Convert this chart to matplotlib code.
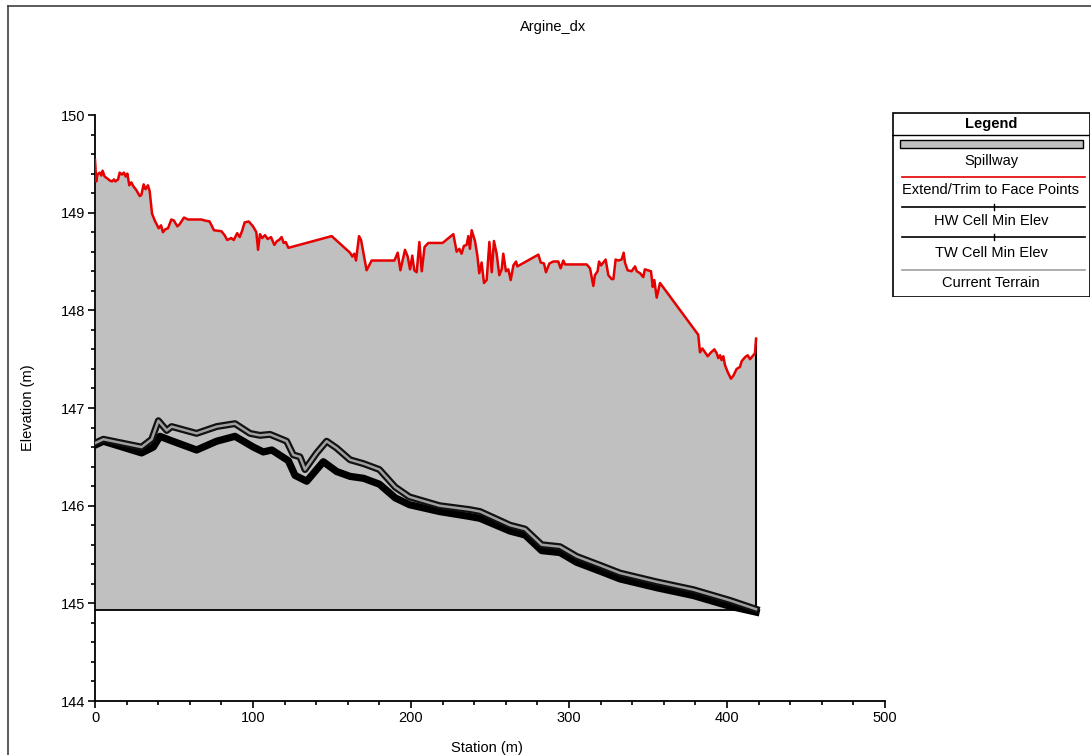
import matplotlib
matplotlib.use('Agg')
import matplotlib.pyplot as plt
from matplotlib.lines import Line2D
from matplotlib.patches import Rectangle
from matplotlib.ticker import MultipleLocator

plt.rcParams['font.family'] = ['Liberation Sans', 'DejaVu Sans']

# Spillway / Extend-Trim to Face Points profile (station m, elevation m)
spill_x = [0, 0.8, 1.5, 3, 4, 4.8, 6.1, 7.8, 9.3, 10.8, 12, 12.9, 14.6, 15.6, 17, 18.3, 19.4,
           20.5, 21.7, 23, 24.3, 26.2, 28.3, 29.3, 30.8, 32, 33.5, 34.6, 36.1, 37.8, 40.3, 41.8,
           43, 44.5, 46.2, 48.3, 49.9, 52.1, 53.5, 56.3, 58.9, 67.3, 69.4, 72.5, 75.3, 80, 82,
           83.7, 86.2, 87.8, 90, 91.6, 93, 94.7, 97.3, 100, 102.1, 103.2, 104.4, 105.8, 107.6,
           109.3, 111.4, 113.5, 115.2, 116.5, 118.1, 119.4, 120.7, 122.4, 149.8, 161.4, 162.9,
           164.1, 165.2, 167.1, 168.4, 171.9, 175.1, 189.5, 191.6, 193.3, 196.2, 197.9, 199.4,
           200.8, 202.1, 203.6, 205.3, 206.8, 208.6, 211, 220, 226.8, 228.9, 230.6, 232, 233.5,
           235.2, 236.3, 237.3, 238.4, 240.5, 242, 243.2, 244.7, 246.2, 247.9, 249.6, 251.1,
           252.5, 254.2, 255.9, 257.4, 258.4, 260.1, 261.6, 263.1, 264.8, 266.5, 267.3, 280.6,
           282.1, 284.2, 285.4, 287.6, 290.1, 293.2, 294.7, 296.4, 297.5, 311.2, 313.3, 315.4,
           316.4, 318.1, 319, 320.3, 323.2, 324.9, 327, 328.1, 329.5, 331.2, 333.3, 334.6, 335.4,
           337.1, 339.6, 341.8, 342.9, 345, 347, 348, 351.9, 353, 354, 355.5, 357.6, 381.8,
           382.9, 384.4, 385.7, 387.8, 389.9, 392, 393.5, 394.5, 395.6, 396.6, 397.7, 398.7,
           400.4, 402.5, 404, 406.1, 408.2, 409.3, 411.4, 413.1, 414.6, 416.7, 417.7, 418.4]
spill_y = [149.54, 149.32, 149.39, 149.41, 149.38, 149.43, 149.37, 149.35, 149.33, 149.32, 149.34,
           149.32, 149.34, 149.41, 149.39, 149.41, 149.37, 149.40, 149.28, 149.31, 149.27, 149.23,
           149.17, 149.18, 149.29, 149.24, 149.28, 149.22, 148.99, 148.92, 148.84, 148.87, 148.80,
           148.83, 148.84, 148.93, 148.92, 148.86, 148.88, 148.95, 148.93, 148.93, 148.92, 148.91,
           148.82, 148.81, 148.77, 148.72, 148.74, 148.72, 148.79, 148.75, 148.81, 148.90, 148.91,
           148.86, 148.80, 148.62, 148.78, 148.74, 148.77, 148.73, 148.75, 148.67, 148.71, 148.72,
           148.75, 148.69, 148.70, 148.64, 148.76, 148.59, 148.55, 148.58, 148.51, 148.76, 148.72,
           148.41, 148.51, 148.51, 148.59, 148.41, 148.62, 148.55, 148.42, 148.56, 148.41, 148.39,
           148.70, 148.40, 148.65, 148.69, 148.69, 148.78, 148.60, 148.63, 148.58, 148.66, 148.67,
           148.76, 148.63, 148.82, 148.71, 148.56, 148.38, 148.49, 148.28, 148.31, 148.70, 148.39,
           148.71, 148.58, 148.36, 148.42, 148.58, 148.40, 148.42, 148.31, 148.46, 148.50, 148.45,
           148.57, 148.49, 148.48, 148.39, 148.48, 148.50, 148.50, 148.43, 148.51, 148.47, 148.47,
           148.43, 148.25, 148.36, 148.40, 148.50, 148.46, 148.52, 148.36, 148.32, 148.32, 148.52,
           148.51, 148.52, 148.59, 148.49, 148.41, 148.40, 148.45, 148.40, 148.38, 148.34, 148.42,
           148.40, 148.24, 148.31, 148.13, 148.28, 147.75, 147.57, 147.61, 147.58, 147.53, 147.57,
           147.60, 147.56, 147.51, 147.54, 147.49, 147.53, 147.44, 147.37, 147.30, 147.33, 147.40,
           147.42, 147.48, 147.52, 147.54, 147.50, 147.54, 147.56, 147.71]
spill_base = 144.93

# HW Cell Min Elev (with Current Terrain on it)
hw_x = [0, 5.3, 29.5, 35.9, 40.1, 45.4, 48.5, 64.3, 77, 88.6, 98.1, 104.4, 110.8, 121.3, 125.5,
        129.7, 132.9, 140.3, 146.6, 152.9, 161.4, 170, 180, 190, 199, 218, 237, 243.7, 262.7,
        272.2, 282.7, 294.3, 304.9, 319.6, 332.3, 355.5, 378.7, 401.9, 418.4]
hw_y = [146.64, 146.68, 146.60, 146.68, 146.87, 146.77, 146.81, 146.74, 146.81, 146.84, 146.74,
        146.72, 146.73, 146.66, 146.52, 146.50, 146.37, 146.54, 146.66, 146.59, 146.47, 146.43,
        146.37, 146.19, 146.09, 146.00, 145.96, 145.94, 145.80, 145.76, 145.60, 145.58, 145.48,
        145.39, 145.31, 145.22, 145.14, 145.03, 144.94]

# TW Cell Min Elev
tw_x = [0, 5.3, 29.5, 36.9, 41.1, 47.5, 64.3, 77, 88.6, 100.2, 106.5, 111.9, 122.4, 126.6, 134,
        144.5, 152.9, 161.4, 170, 180, 190, 199, 218, 237, 243.7, 262.7, 272.2, 282.7, 294.3,
        304.9, 319.6, 332.3, 355.5, 378.7, 401.9, 418.4]
tw_y = [146.62, 146.66, 146.54, 146.60, 146.71, 146.67, 146.57, 146.66, 146.71, 146.60, 146.55,
        146.57, 146.46, 146.31, 146.25, 146.45, 146.35, 146.30, 146.28, 146.22, 146.08, 146.01,
        145.94, 145.89, 145.87, 145.74, 145.70, 145.54, 145.52, 145.42, 145.33, 145.25, 145.16,
        145.08, 144.97, 144.91]

legend_labels = ['Spillway', 'Extend/Trim to Face Points', 'HW Cell Min Elev',
                 'TW Cell Min Elev', 'Current Terrain']

W, H = 1091, 755
fig = plt.figure(figsize=(W / 100, H / 100), dpi=100)
ax = fig.add_axes([95 / W, 1 - 701 / H, 790 / W, 586 / H])

# spillway polygon
ax.fill_between(spill_x, spill_y, spill_base, color='#c0c0c0', lw=0, zorder=1)
ax.plot([spill_x[0], spill_x[-1]], [spill_base, spill_base], color='black', lw=1.3, zorder=2)
ax.plot([spill_x[-1], spill_x[-1]], [spill_base, spill_y[-1]], color='black', lw=1.5, zorder=2)
ax.plot(spill_x, spill_y, color='#e60000', lw=1.8, zorder=3)

# cell min elevation lines
ax.plot(tw_x, tw_y, color='black', lw=5.2, zorder=4)
ax.plot(hw_x, hw_y, color='#111111', lw=5.0, zorder=5)
ax.plot(hw_x, hw_y, color='#a0a0a0', lw=1.8, zorder=6)

ax.set_xlim(0, 500)
ax.set_ylim(144, 150)
ax.xaxis.set_major_locator(MultipleLocator(100))
ax.xaxis.set_minor_locator(MultipleLocator(20))
ax.yaxis.set_major_locator(MultipleLocator(1))
ax.yaxis.set_minor_locator(MultipleLocator(0.2))
for s in ['top', 'right']:
    ax.spines[s].set_visible(False)
for s in ['left', 'bottom']:
    ax.spines[s].set_linewidth(1.3)
ax.tick_params(which='major', direction='out', length=5, width=1.2, labelsize=10.5, pad=2)
ax.tick_params(which='minor', direction='out', length=3, width=1.2)
ax.set_facecolor('none')

fig.text(553 / W, 1 - 27 / H, 'Argine_dx', ha='center', va='center', fontsize=10.5)
fig.text(487 / W, 1 - 748 / H, 'Station (m)', ha='center', va='center', fontsize=10.5)
fig.text(28 / W, 1 - 408 / H, 'Elevation (m)', ha='center', va='center', rotation=90, fontsize=10.5)

# figure frame (top and left)
fig.add_artist(Line2D([8 / W, 1], [1 - 6 / H, 1 - 6 / H], color='#404040', lw=1.2))
fig.add_artist(Line2D([8 / W, 8 / W], [0, 1 - 6 / H], color='#404040', lw=1.2))

# legend box
lg = fig.add_axes([892 / W, 1 - 297 / H, 198 / W, 185 / H])
lg.set_xlim(0, 198)
lg.set_ylim(185, 0)
lg.axis('off')
lg.add_patch(Rectangle((0.5, 0.5), 197, 184, fill=False, ec='black', lw=1.2))
lg.plot([0, 198], [23, 23], color='black', lw=1)
lg.text(99, 12, 'Legend', ha='center', va='center', fontsize=10.5, fontweight='bold')
lg.add_patch(Rectangle((8, 28), 183, 8, fc='#c0c0c0', ec='black', lw=1))
lg.plot([10, 193], [65, 65], color='#e60000', lw=1.2)
lg.plot([10, 193], [95, 95], color='black', lw=1.2)
lg.plot([102, 102], [92, 98], color='black', lw=1)
lg.plot([10, 193], [125, 125], color='black', lw=1.2)
lg.plot([102, 102], [122, 128], color='black', lw=1)
lg.plot([10, 193], [158, 158], color='#a0a0a0', lw=1.2)
for yy, lab in zip([49, 78, 109, 141, 171], legend_labels):
    lg.text(99, yy, lab, ha='center', va='center', fontsize=10.5)

plt.savefig('out.png', dpi=100)
